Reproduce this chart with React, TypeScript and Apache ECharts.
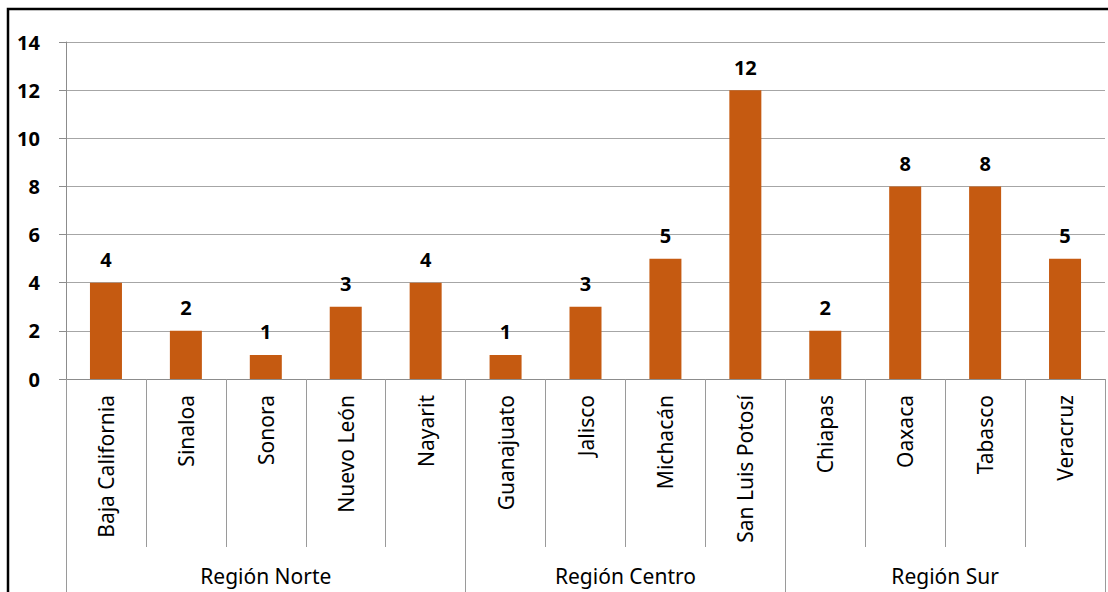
import React, { useEffect, useRef } from "react";
import * as echarts from "echarts";

const categories = [
  "Baja California", "Sinaloa", "Sonora", "Nuevo León", "Nayarit",
  "Guanajuato", "Jalisco", "Michacán", "San Luis Potosí",
  "Chiapas", "Oaxaca", "Tabasco", "Veracruz",
];
const values = [4, 2, 1, 3, 4, 1, 3, 5, 12, 2, 8, 8, 5];
const groupNames = ["Región Norte", "Región Centro", "Región Sur"];
const groupSizes = [5, 4, 4];
const yTicks = [0, 2, 4, 6, 8, 10, 12, 14];

const FONT = "'Noto Sans', 'Open Sans', sans-serif";

export default function App() {
  const ref = useRef<HTMLDivElement>(null);
  useEffect(() => {
    if (!ref.current) return;
    const chart = echarts.init(ref.current, undefined, { renderer: "svg" });
    const bounds: number[] = [0];
    const centers: number[] = [];
    groupSizes.forEach((s, i) => {
      const start = bounds[i];
      bounds.push(start + s);
      centers.push(start + s / 2);
    });
    chart.setOption({
      animation: false,
      backgroundColor: "#ffffff",
      textStyle: { fontFamily: FONT },
      grid: { left: 66, right: 3, top: 42, bottom: 213 },
      graphic: [
        {
          type: "rect",
          shape: { x: 8, y: 9, width: 1300, height: 800 },
          style: { fill: "none", stroke: "#000", lineWidth: 2.5 },
          silent: true,
        },
      ],
      xAxis: [
        {
          type: "category",
          data: categories,
          position: "bottom",
          axisLine: { show: true, lineStyle: { color: "#8c8c8c", width: 1 } },
          axisTick: { show: true, interval: 0, length: 168, lineStyle: { color: "#9a9a9a" } },
          axisLabel: {
            interval: 0,
            rotate: 90,
            margin: 16,
            fontSize: 21,
            color: "#000",
            fontFamily: FONT,
          },
        },
        {
          type: "value",
          min: 0,
          max: categories.length,
          position: "bottom",
          axisLine: { show: false },
          splitLine: { show: false },
          axisTick: {
            show: true,
            length: 215,
            customValues: bounds,
            lineStyle: { color: "#9a9a9a" },
          },
          axisLabel: {
            show: true,
            customValues: centers,
            margin: 186,
            fontSize: 21,
            color: "#000",
            fontFamily: FONT,
            formatter: (v: number) => {
              const i = centers.findIndex((c) => Math.abs(c - v) < 1e-6);
              return i >= 0 ? groupNames[i] : "";
            },
          },
        },
      ],
      yAxis: {
        type: "value",
        min: 0,
        max: 14,
        interval: 2,
        axisLine: { show: true, lineStyle: { color: "#8c8c8c" } },
        axisTick: { show: true, length: 7, lineStyle: { color: "#8c8c8c" } },
        splitLine: { show: true, lineStyle: { color: "#a6a6a6", width: 1 } },
        axisLabel: {
          margin: 26,
          fontSize: 20,
          fontWeight: "bold",
          color: "#000",
          fontFamily: FONT,
          formatter: (v: number) => (yTicks.includes(v) ? String(v) : ""),
        },
      },
      series: [
        {
          type: "bar",
          xAxisIndex: 0,
          data: values,
          barWidth: 32,
          itemStyle: { color: "#C55A11" },
          label: {
            show: true,
            position: "top",
            distance: 13,
            fontSize: 20,
            fontWeight: "bold",
            color: "#000",
            fontFamily: FONT,
          },
        },
      ],
    });
    return () => chart.dispose();
  }, []);
  return (
    <div
      ref={ref}
      style={{ position: "fixed", left: 0, top: 0, width: 1108, height: 592 }}
    />
  );
}
